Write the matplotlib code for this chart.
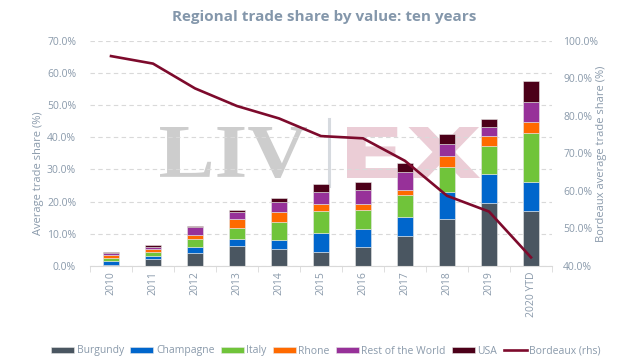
import matplotlib.pyplot as plt
from matplotlib.ticker import PercentFormatter
from matplotlib.lines import Line2D
from matplotlib.textpath import TextPath
from matplotlib.patches import PathPatch
from matplotlib.font_manager import FontProperties
from matplotlib.transforms import Affine2D, IdentityTransform
import numpy as np

plt.rcParams['font.family'] = ['Open Sans', 'DejaVu Sans']

years = ['2010', '2011', '2012', '2013', '2014', '2015', '2016', '2017', '2018', '2019', '2020 YTD']
regions = ['Burgundy', 'Champagne', 'Italy', 'Rhone', 'Rest of the World', 'USA']

burgundy = [0.2, 2.1, 3.9, 6.2, 5.2, 4.35, 5.9, 9.3, 14.5, 19.7, 17.1]
champagne = [1.45, 0.9, 2.1, 2.2, 3.0, 5.75, 5.6, 6.0, 8.6, 8.9, 8.9]
italy = [0.95, 1.35, 2.4, 3.3, 5.5, 6.9, 5.8, 6.7, 7.7, 8.7, 15.4]
rhone = [0.7, 0.95, 1.3, 2.8, 3.2, 2.2, 1.9, 1.6, 3.5, 3.1, 3.4]
rest_world = [0.6, 0.7, 2.3, 2.4, 3.1, 3.9, 4.4, 5.5, 3.5, 2.9, 6.0]
usa = [0.4, 0.4, 0.4, 0.4, 1.1, 2.3, 2.4, 2.8, 3.1, 2.3, 6.7]
bordeaux = [95.9, 93.9, 87.3, 82.6, 79.3, 74.6, 74.0, 68.0, 58.7, 54.5, 42.3]

series = [burgundy, champagne, italy, rhone, rest_world, usa]
colors = ['#4a5661', '#0066cc', '#70c43a', '#ff6a00', '#973199', '#4c0019']
line_color = '#7d0a2c'
text_color = '#8a9aab'

W, H = 624, 361
fig = plt.figure(figsize=(W / 100, H / 100), dpi=100)
ax = fig.add_axes([90 / W, 1 - 266 / H, 462 / W, 225.3 / H])


def watermark(text, family, color, left, top, right, bottom):
    # text drawn as a path squeezed into a pixel box (top-left origin)
    path = TextPath((0, 0), text, size=1, prop=FontProperties(family=family, weight='bold'))
    ext = path.get_extents()
    tr = (Affine2D().translate(-ext.x0, -ext.y0)
          .scale((right - left) / ext.width, (bottom - top) / ext.height)
          .translate(left, H - bottom))
    fig.add_artist(PathPatch(tr.transform_path(path), transform=IdentityTransform(),
                             facecolor=color, edgecolor='none', zorder=0))


watermark('LIV', 'Liberation Serif', '#cdcdcd', 160, 127, 307, 178)
watermark('EX', 'DejaVu Sans', '#ebcdd6', 347, 127, 480, 178)
fig.add_artist(Line2D([329 / W, 329 / W], [1 - 119 / H, 1 - 186 / H],
                      color='#d6dadf', lw=2.2, zorder=0))
ax.patch.set_alpha(0)

x = np.arange(len(years))
bottom = np.zeros(len(years))
for name, vals, c in zip(regions, series, colors):
    v = np.array(vals) / 100
    ax.bar(x, v, 0.4, bottom=bottom, color=c, label=name, zorder=2,
           edgecolor='#e6e6e6', linewidth=0.4)
    bottom += v

ax.set_xlim(-0.5, len(years) - 0.5)
ax.set_ylim(0, 0.70)
ax.set_yticks(np.arange(0, 0.71, 0.1))
ax.yaxis.set_major_formatter(PercentFormatter(1.0, decimals=1))
ax.set_axisbelow(True)
ax.grid(axis='y', color='#d9d9d9', linestyle=(0, (4, 3)), linewidth=0.8)
ax.set_xticks(x)
ax.set_xticklabels(years, rotation=90)
ax.set_xticks(np.arange(-0.5, len(years), 1), minor=True)
ax.tick_params(axis='x', which='major', length=0, pad=4, labelcolor=text_color, labelsize=7.5)
ax.tick_params(axis='x', which='minor', length=4, color='#d9d9d9')
ax.tick_params(axis='y', length=0, pad=10, labelcolor=text_color, labelsize=7.5)
for s in ['top', 'right', 'left']:
    ax.spines[s].set_visible(False)
ax.spines['bottom'].set_color('#d9d9d9')
ax.set_ylabel('Average trade share (%)', color=text_color, fontsize=8)
ax.yaxis.set_label_coords(-0.1, 0.41)

ax2 = ax.twinx()
ax2.plot(x, np.array(bordeaux) / 100, color=line_color, lw=1.9, label='Bordeaux (rhs)', zorder=3)
ax2.set_ylim(0.40, 1.00)
ax2.set_yticks(np.arange(0.40, 1.001, 0.1))
ax2.yaxis.set_major_formatter(PercentFormatter(1.0, decimals=1))
ax2.tick_params(axis='y', length=0, pad=8, labelcolor=text_color, labelsize=7.5)
for s in ['top', 'right', 'left', 'bottom']:
    ax2.spines[s].set_visible(False)
ax2.set_ylabel('Bordeaux average trade share (%)', color=text_color, fontsize=8)
ax2.yaxis.set_label_coords(1.095, 0.5)

fig.text(324.5 / W, 1 - 17 / H, 'Regional trade share by value: ten years', ha='center', va='center',
         fontsize=11, fontweight='bold', color='#8497ab')

h1, l1 = ax.get_legend_handles_labels()
h2, l2 = ax2.get_legend_handles_labels()
fig.legend(h1 + h2, l1 + l2, loc='center', bbox_to_anchor=(326 / W, 1 - 351 / H),
           ncol=7, frameon=False, fontsize=7.5, labelcolor=text_color,
           handlelength=2.2, handleheight=0.6, handletextpad=0.25, columnspacing=0.6)

fig.savefig('out.png', dpi=100)
